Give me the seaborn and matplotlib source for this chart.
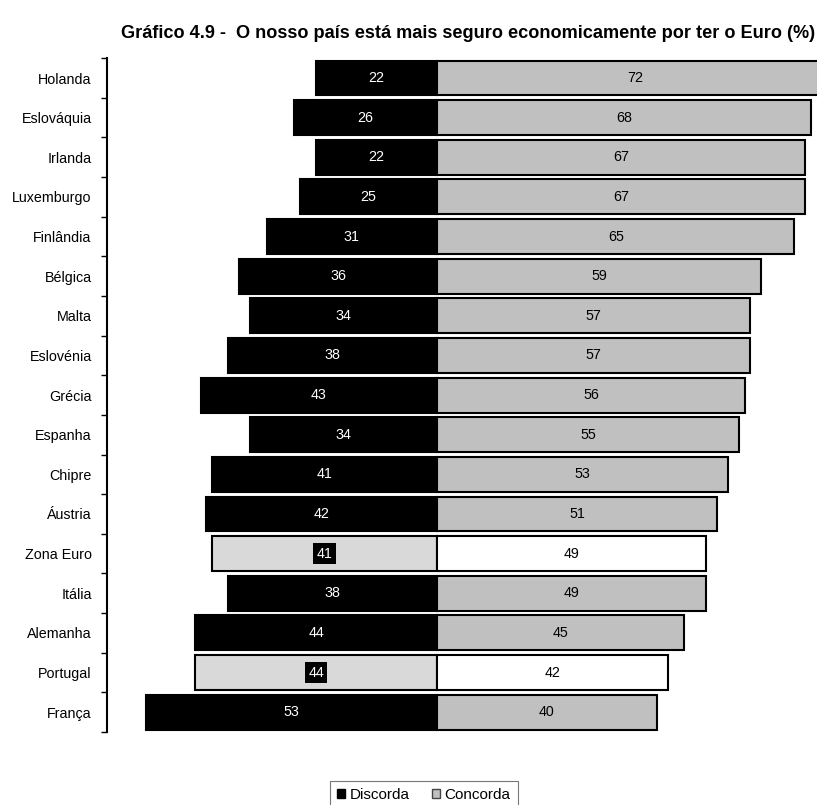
import pandas as pd
import numpy as np
import seaborn as sns
import matplotlib.pyplot as plt
from matplotlib.patches import Patch

paises = ["Holanda", "Eslováquia", "Irlanda", "Luxemburgo", "Finlândia", "Bélgica",
          "Malta", "Eslovénia", "Grécia", "Espanha", "Chipre", "Áustria",
          "Zona Euro", "Itália", "Alemanha", "Portugal", "França"]
discorda = [22, 26, 22, 25, 31, 36, 34, 38, 43, 34, 41, 42, 41, 38, 44, 44, 53]
concorda = [72, 68, 67, 67, 65, 59, 57, 57, 56, 55, 53, 51, 49, 49, 45, 42, 40]
destaque = ["Zona Euro", "Portugal"]

df = pd.DataFrame({"pais": paises, "discorda": discorda, "concorda": concorda})
df["neg"] = -df["discorda"]

cor_disc = {p: ("#d9d9d9" if p in destaque else "black") for p in paises}
cor_conc = {p: ("white" if p in destaque else "#c0c0c0") for p in paises}

sns.set_style("white")
plt.rcParams["font.family"] = ["Liberation Sans", "DejaVu Sans"]
plt.rcParams["text.color"] = "black"
plt.rcParams["ytick.labelcolor"] = "black"

fig = plt.figure(figsize=(8.17, 8.05), dpi=100)
ax = fig.add_axes([0.131, 0.0907, 0.869, 0.837])

sns.barplot(data=df, x="neg", y="pais", hue="pais", palette=cor_disc, orient="h",
            width=0.88, legend=False, ax=ax, edgecolor="black", linewidth=1.5)
sns.barplot(data=df, x="concorda", y="pais", hue="pais", palette=cor_conc, orient="h",
            width=0.88, legend=False, ax=ax, edgecolor="black", linewidth=1.5)

fs = 10.3
for i, row in df.iterrows():
    if row["pais"] in destaque:
        ax.text(-row["discorda"] / 2, i, str(row["discorda"]), ha="center", va="center",
                color="white", fontsize=fs,
                bbox=dict(boxstyle="square,pad=0.25", fc="black", ec="none"))
    else:
        ax.text(-row["discorda"] / 2, i, str(row["discorda"]), ha="center", va="center",
                color="white", fontsize=fs)
    ax.text(row["concorda"] / 2, i, str(row["concorda"]), ha="center", va="center",
            color="black", fontsize=fs)

ax.set_xlim(-60, 69.1)
ax.set_ylim(len(paises) - 0.5, -0.5)
ax.set_xlabel("")
ax.set_ylabel("")
ax.set_xticks([])
ax.tick_params(axis="y", which="major", length=0, labelsize=fs, pad=11)
ax.set_yticks(np.arange(len(paises) + 1) - 0.5, minor=True)
ax.tick_params(axis="y", which="minor", length=4, width=1, color="black", direction="out", left=True)
for s in ["top", "right", "bottom"]:
    ax.spines[s].set_visible(False)
ax.spines["left"].set_color("black")
ax.spines["left"].set_linewidth(1.5)

fig.suptitle("Gráfico 4.9 -  O nosso país está mais seguro economicamente por ter o Euro (%)",
             x=0.573, y=0.969, fontsize=13.1, fontweight="bold", color="black")

# legenda parcialmente cortada na margem inferior, como no original
handles = [Patch(facecolor="black", edgecolor="black", label="Discorda"),
           Patch(facecolor="#c0c0c0", edgecolor="#444444", label="Concorda")]
leg = fig.legend(handles=handles, loc="upper center", bbox_to_anchor=(0.519, 0.0298), ncol=2,
                 fontsize=11, fancybox=False, handlelength=0.5, handleheight=0.5,
                 handletextpad=0.3, columnspacing=1.5, borderpad=0.45, borderaxespad=0)
leg.get_frame().set_edgecolor("#555555")
leg.get_frame().set_linewidth(0.8)

plt.savefig("out.png", dpi=100)
